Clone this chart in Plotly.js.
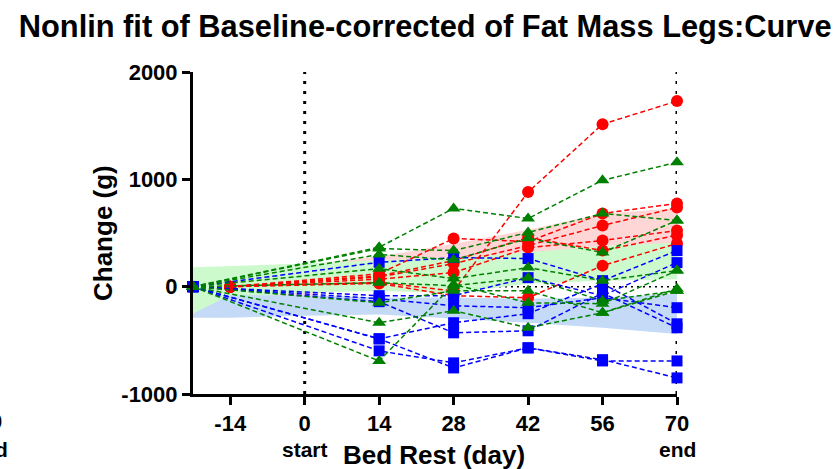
<!DOCTYPE html>
<html>
<head>
<meta charset="utf-8">
<script src="https://cdn.plot.ly/plotly-3.0.1.min.js"></script>
<style>html,body{margin:0;padding:0;background:#fff;}#chart{width:837px;height:469px;}</style>
</head>
<body>
<div id="chart"></div>
<script>
// ---- data ----
const tickVals = [-14, 0, 14, 28, 42, 56, 70];
const tickLabels = ["-14", "0", "14", "28", "42", "56", "70"];
const yTickVals = [-1000, 0, 1000, 2000];
const yTickLabels = ["-1000", "0", "1000", "2000"];
const redDays = [-14, 14, 28, 42, 56, 70];
const otherDays = [-21, 14, 28, 42, 56, 70];

const redSubjects = [
  [0, 40, -40, 881, 1514, 1729],
  [0, 120, 449, 420, 682, 776],
  [0, 90, 215, 383, 570, 738],
  [0, 70, 131, 364, 430, 523],
  [0, 30, -84, -103, 196, 402],
  [0, 100, 243, 458, 336, 480]
];
const greenSubjects = [
  [0, 367, 729, 635, 991, 1159],
  [0, 355, 336, 505, 682, 617],
  [0, 300, 250, 450, 318, 617],
  [0, 168, 75, 178, 56, 150],
  [0, 37, 9, 84, -131, -37],
  [0, -150, -37, -37, -243, -19],
  [0, -692, 20, -150, -159, 150],
  [0, -336, -224, -383, -243, -37]
];
const blueSubjects = [
  [0, 227, 271, 262, 56, 336],
  [0, -84, -84, 84, -84, 224],
  [0, -112, -178, -196, -103, -196],
  [0, -486, -336, -252, 28, -346],
  [0, -140, -430, -411, -60, -383],
  [0, -598, -710, -570, -692, -692],
  [0, -486, -757, -570, -680, -850]
];

// confidence bands
const redBandX = [-14, 0, 14, 28, 42, 56, 70];
const redBandUpper = [150, 200, 280, 400, 530, 680, 730];
const redBandLower = [-250, -100, 100, 250, 290, 380, 400];
const greenBandX = [-21, -14, 0, 14, 28, 42, 56, 70];
const greenBandUpper = [180, 190, 215, 245, 270, 320, 380, 410];
const greenBandLower = [-250, -120, -55, -40, -60, 28, 56, 70];
const blueBandX = [-21, -14, 0, 14, 28, 42, 56, 70];
const blueBandUpper = [-250, -80, -80, -100, -100, -112, -100, -65];
const blueBandLower = [-290, -290, -270, -260, -300, -336, -383, -440];

const RED = "#FF0000", GREEN = "#008000", BLUE = "#0000FF";

function band(xs, up, lo, color) {
  return {
    x: xs.concat(xs.slice().reverse()),
    y: up.concat(lo.slice().reverse()),
    type: "scatter", mode: "lines", fill: "toself",
    fillcolor: color, line: {width: 0}, hoverinfo: "skip", showlegend: false
  };
}

const traces = [
  band(redBandX, redBandUpper, redBandLower, "rgb(255,214,214)"),
  band(greenBandX, greenBandUpper, greenBandLower, "rgb(204,250,204)"),
  band(blueBandX, blueBandUpper, blueBandLower, "rgb(196,218,246)")
];

function subj(xs, ys, color, symbol, size) {
  return {
    x: xs, y: ys, type: "scatter", mode: "lines+markers", cliponaxis: false,
    line: {color: color, width: 1.5, dash: "5px,3px"},
    marker: {color: color, symbol: symbol, size: size},
    showlegend: false
  };
}
redSubjects.forEach(s => traces.push(subj(redDays, s, RED, "circle", 12)));
blueSubjects.forEach(s => traces.push(subj(otherDays, s, BLUE, "square", 11)));
greenSubjects.forEach(s => traces.push(subj(otherDays, s, GREEN, "triangle-up", 12)));

const F = "Arial, 'Liberation Sans', sans-serif";

const layout = {
  width: 837, height: 469,
  margin: {l: 193, r: 160, t: 72, b: 75},
  paper_bgcolor: "#fff", plot_bgcolor: "#fff",
  showlegend: false,
  title: {
    text: "Nonlin fit of Baseline-corrected of Fat Mass Legs:Curve",
    font: {family: F, size: 30.8, color: "#000", weight: "bold"},
    x: 0.508, xanchor: "center", y: 0.944, yanchor: "middle"
  },
  xaxis: {
    range: [-21, 70], showgrid: false, zeroline: false,
    showline: true, linewidth: 3, linecolor: "#000",
    ticks: "outside", ticklen: 8, tickwidth: 3, tickcolor: "#000",
    tickmode: "array", tickvals: tickVals, ticktext: tickLabels,
    tickfont: {family: F, size: 22, color: "#000", weight: "bold"}
  },
  yaxis: {
    range: [-1000, 2000], showgrid: false, zeroline: false,
    showline: true, linewidth: 3, linecolor: "#000",
    ticks: "outside", ticklen: 8, tickwidth: 3, tickcolor: "#000",
    tickmode: "array", tickvals: yTickVals, ticktext: yTickLabels,
    tickfont: {family: F, size: 22, color: "#000", weight: "bold"}
  },
  shapes: [
    {type: "line", xref: "x", yref: "paper", x0: 0, x1: 0, y0: 0, y1: 1, layer: "below",
     line: {color: "#000", width: 3, dash: "3px,7px"}},
    {type: "line", xref: "x", yref: "paper", x0: 70, x1: 70, y0: 0, y1: 1, layer: "below",
     line: {color: "#000", width: 3, dash: "3px,7px"}},
    {type: "line", xref: "x", yref: "y", x0: -21, x1: 70, y0: 0, y1: 0, layer: "below",
     line: {color: "#000", width: 1.5, dash: "2px,4px"}}
  ],
  annotations: [
    {text: "Bed Rest (day)", xref: "paper", yref: "paper", x: (433.5 - 193) / 484, y: (394 - 455) / 322,
     xanchor: "center", yanchor: "middle", showarrow: false,
     font: {family: F, size: 26, color: "#000", weight: "bold"}},
    {text: "start", xref: "x", yref: "paper", x: 0, y: (394 - 450) / 322,
     xanchor: "center", yanchor: "middle", showarrow: false,
     font: {family: F, size: 21, color: "#000", weight: "bold"}},
    {text: "end", xref: "x", yref: "paper", x: 70, y: (394 - 450) / 322,
     xanchor: "center", yanchor: "middle", showarrow: false,
     font: {family: F, size: 21, color: "#000", weight: "bold"}},
    {text: "Change (g)", xref: "paper", yref: "paper", x: (103 - 193) / 484, y: (394 - 233) / 322,
     xanchor: "center", yanchor: "middle", textangle: -90, showarrow: false,
     font: {family: F, size: 26, color: "#000", weight: "bold"}},
    {text: "0", xref: "paper", yref: "paper", x: (4 - 193) / 484, y: (394 - 421) / 322,
     xanchor: "right", yanchor: "middle", showarrow: false,
     font: {family: F, size: 22, color: "#000", weight: "bold"}},
    {text: "d", xref: "paper", yref: "paper", x: (10 - 193) / 484, y: (394 - 450) / 322,
     xanchor: "right", yanchor: "middle", showarrow: false,
     font: {family: F, size: 21, color: "#000", weight: "bold"}}
  ]
};

Plotly.newPlot("chart", traces, layout, {displayModeBar: false, staticPlot: true});
</script>
</body>
</html>
